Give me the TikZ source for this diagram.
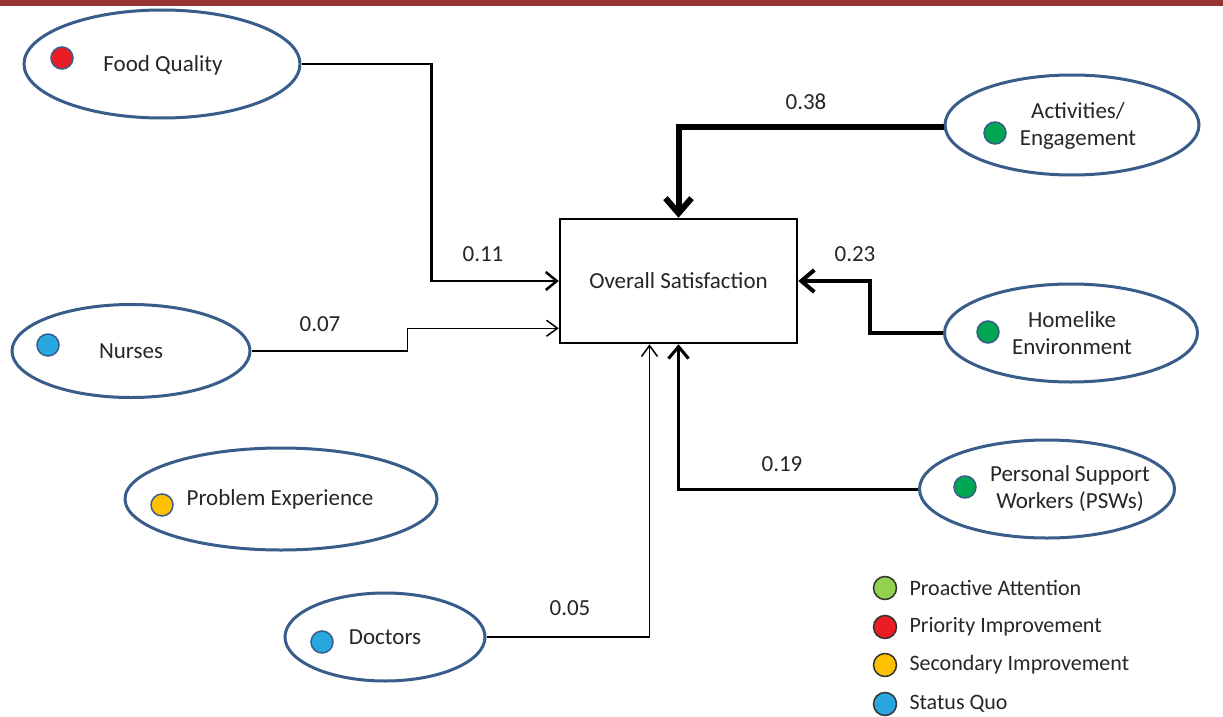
\documentclass[tikz,border=0pt]{standalone}
\usepackage{fontspec}
\setmainfont{Carlito}
\usepackage{tikz}
\usetikzlibrary{shapes.geometric, arrows.meta}
\definecolor{barred}{RGB}{150,52,50}
\definecolor{ellblue}{RGB}{56,93,138}
\definecolor{dotgreen}{RGB}{0,166,81}
\definecolor{leggreen}{RGB}{146,208,80}
\definecolor{dotred}{RGB}{237,28,36}
\definecolor{dotyellow}{RGB}{255,192,0}
\definecolor{dotblue}{RGB}{41,168,224}
\definecolor{txtgray}{RGB}{38,38,38}

\begin{document}
\begin{tikzpicture}[x=1pt, y=-1pt,
		factor/.style={ellipse, draw=ellblue, line width=3pt, inner sep=0pt},
		dot/.style={circle, draw=ellblue, line width=1.5pt, minimum size=22pt, inner sep=0pt},
		legdot/.style={circle, draw=black!80, line width=1.5pt, minimum size=23pt, inner sep=0pt},
		txt/.style={text=txtgray, font=\fontsize{23}{27}\selectfont, align=center},
		legtxt/.style={text=txtgray, font=\fontsize{22}{26}\selectfont, anchor=west},
		link/.style={draw=black, line width=#1}]
				% frame and top bar
				\fill[white] (0,0) rectangle (1223,717);
				\fill[barred] (0,0) rectangle (1223,6);

				% centre box
				\node[draw, line width=2.5pt, minimum width=237pt, minimum height=124pt, txt] (sat) at (678.5,281) {Overall Satisfaction};

				% factors
				\node[factor, minimum width=276pt, minimum height=108pt] (food) at (162,64) {};
				\node[dot, fill=dotred] (fooddot) at (62,58) {};
				\node[txt] (foodtxt) at (163,65) {Food Quality};

				\node[factor, minimum width=254pt, minimum height=100pt] (act) at (1072,125) {};
				\node[dot, fill=dotgreen] (actdot) at (995,133) {};
				\node[txt] (acttxt) at (1078,126) {Activities/\\Engagement};

				\node[factor, minimum width=253pt, minimum height=98pt] (home) at (1071,333) {};
				\node[dot, fill=dotgreen] (homedot) at (988,332) {};
				\node[txt] (hometxt) at (1072,333) {Homelike\\Environment};

				\node[factor, minimum width=238pt, minimum height=93pt] (nurse) at (131,351) {};
				\node[dot, fill=dotblue] (nursedot) at (48,345) {};
				\node[txt] (nursetxt) at (131,351) {Nurses};

				\node[factor, minimum width=312pt, minimum height=102pt] (prob) at (281,499) {};
				\node[dot, fill=dotyellow] (probdot) at (162,505) {};
				\node[txt] (probtxt) at (280,499) {Problem Experience};

				\node[factor, minimum width=255pt, minimum height=98pt] (psw) at (1047,489) {};
				\node[dot, fill=dotgreen] (pswdot) at (965,487) {};
				\node[txt] (pswtxt) at (1070,489) {Personal Support\\Workers (PSWs)};

				\node[factor, minimum width=200pt, minimum height=88pt] (doc) at (385,637) {};
				\node[dot, fill=dotblue] (docdot) at (322,642) {};
				\node[txt] (doctxt) at (385,637) {Doctors};

				% paths with weights
				\draw[link=2.5pt, -{Straight Barb[length=11pt, width=18pt]}] (food.east) -- ++(130,0) |- (sat.west);
				\draw[link=1.5pt, -{Straight Barb[length=11pt, width=16pt]}] (nurse.east) -- ++(156,0) |- ([yshift=16pt]sat.south west);
				\draw[link=1.5pt, -{Straight Barb[length=11pt, width=16pt]}] (doc.east) -| ([xshift=-29pt]sat.south);
				\draw[link=3pt, -{Straight Barb[length=12pt, width=20pt]}] (psw.west) -| (sat.south);
				\draw[link=4pt, -{Straight Barb[length=13pt, width=22pt]}] (home.west) -- ++(-73,0) |- (sat.east);
				\draw[link=6pt, -{Straight Barb[length=15pt, width=26pt]}] ([yshift=-2pt]act.west) -| (sat.north);

				\node[txt] (w11) at (483,254) {0.11};
				\node[txt] (w07) at (320,324) {0.07};
				\node[txt] (w05) at (570,608) {0.05};
				\node[txt] (w19) at (782,464) {0.19};
				\node[txt] (w23) at (855,254) {0.23};
				\node[txt] (w38) at (806,102) {0.38};

				% legend
				\node[legdot, fill=leggreen] (leg1) at (885,588) {};
				\node[legdot, fill=dotred] (leg2) at (885,627) {};
				\node[legdot, fill=dotyellow] (leg3) at (885,665) {};
				\node[legdot, fill=dotblue] (leg4) at (885,704) {};
				\node[legtxt] (legtxt1) at (906,588) {Proactive Attention};
				\node[legtxt] (legtxt2) at (906,627) {Priority Improvement};
				\node[legtxt] (legtxt3) at (906,665) {Secondary Improvement};
				\node[legtxt] (legtxt4) at (906,704) {Status Quo};
			\end{tikzpicture}
\end{document}
